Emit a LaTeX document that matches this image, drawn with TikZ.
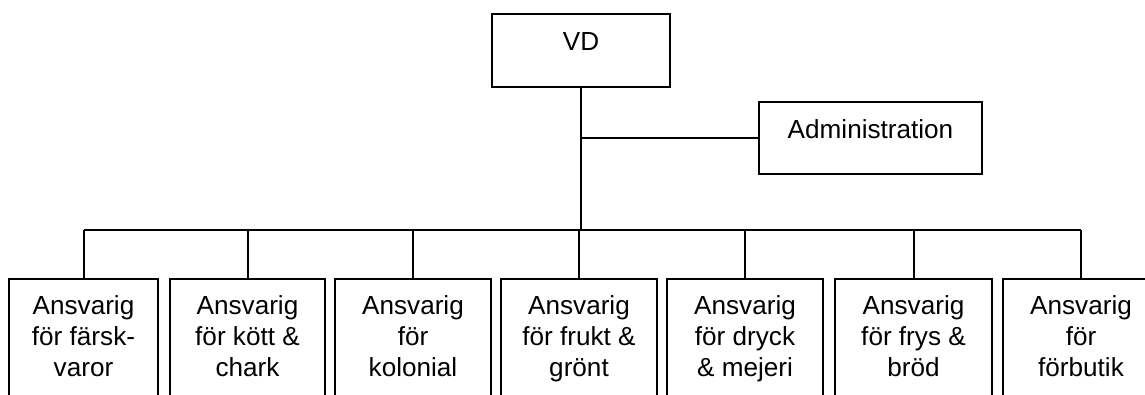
\documentclass[tikz,border=0pt]{standalone}
\usepackage{fontspec}
\setmainfont{Liberation Sans}
\begin{document}
\begin{tikzpicture}[x=0.75pt,y=-0.75pt,
  line width=1.5pt,
  box/.style={draw=black, rectangle, inner sep=0pt, outer sep=0pt},
  unit/.style={box, minimum width=117pt, minimum height=112.5pt, anchor=north},
  lbl/.style={inner sep=0pt, font=\fontsize{19.6pt}{22.9pt}\selectfont},
  multi/.style={lbl, align=center, anchor=north}]
\useasboundingbox (0,0) rectangle (1145,394);
\clip (0,0) rectangle (1145,394);

% top level
\node[box, minimum width=133.5pt, minimum height=54.75pt] (vd) at (581,50.5) {};
\node[lbl, anchor=base] (vdt) at (581,50) {VD};

\node[box, minimum width=167.25pt, minimum height=54pt] (adm) at (870.5,138) {};
\node[lbl, anchor=base] (admt) at (870.5,138) {Administration};

% bus line level
\coordinate (bus) at (0,230);

% departments
\node[unit, minimum width=111.75pt] (b1) at (83.5,279) {};
\node[unit, minimum width=116.25pt] (b2) at (247.5,279) {};
\node[unit] (b3) at (413,279) {};
\node[unit] (b4) at (579,279) {};
\node[unit] (b5) at (745,279) {};
\node[unit, minimum width=117.75pt] (b6) at (913.5,279) {};
\node[unit] (b7) at (1081,279) {};

\node[multi] (t1) at (83.5,295) {Ansvarig\\för färsk-\\varor};
\node[multi] (t2) at (247.5,295) {Ansvarig\\för kött \&\\chark};
\node[multi] (t3) at (413,295) {Ansvarig\\för\\kolonial};
\node[multi] (t4) at (579,295) {Ansvarig\\för frukt \&\\grönt};
\node[multi] (t5) at (745,295) {Ansvarig\\för dryck\\\& mejeri};
\node[multi] (t6) at (913.5,295) {Ansvarig\\för frys \&\\bröd};
\node[multi] (t7) at (1081,295) {Ansvarig\\för\\förbutik};

% connectors
\draw (vd.south) -- (vd.south |- bus);
\draw (vd.south |- adm.west) -- (adm.west);
\draw (b1.north |- bus) -- (b7.north |- bus);
\foreach \b in {b1,b2,b3,b4,b5,b6,b7}
  \draw (\b.north) -- (\b.north |- bus);
\end{tikzpicture}
\end{document}
